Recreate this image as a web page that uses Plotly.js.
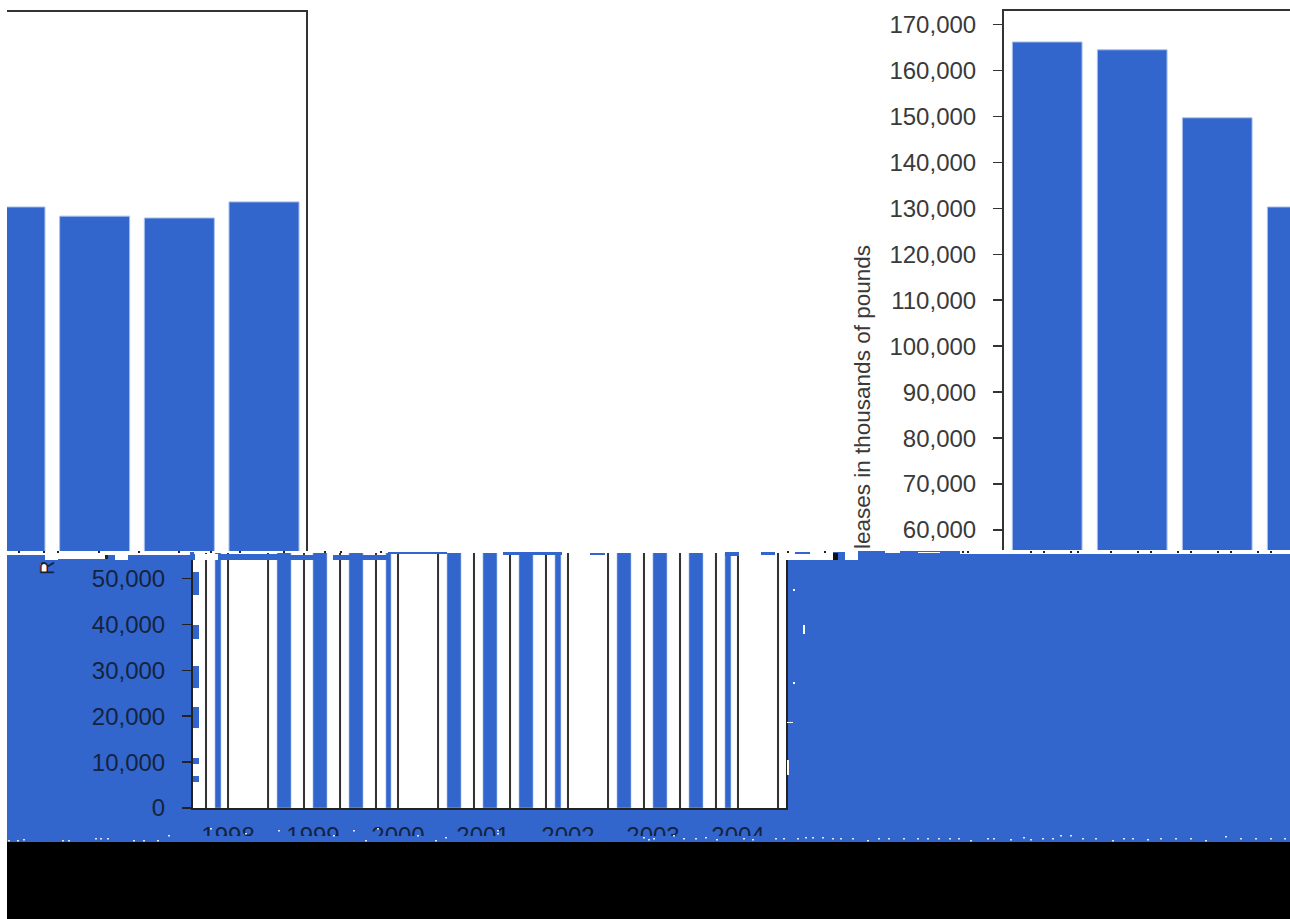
<!DOCTYPE html>
<html><head><meta charset="utf-8">
<script src="https://cdn.plot.ly/plotly-3.0.1.min.js"></script>
<style>html,body{margin:0;padding:0;background:#fff}#c{width:1290px;height:919px}</style></head>
<body><div id="c"></div>
<script>
// Chart values
const years = [1998,1999,2000,2001,2002,2003,2004];
const releases = [166200,164500,149700,130300,128300,127900,131400];
const upperTicks = [170000,160000,150000,140000,130000,120000,110000,100000,90000,80000,70000,60000];
const upperLabels = ["170,000","160,000","150,000","140,000","130,000","120,000","110,000","100,000","90,000","80,000","70,000","60,000"];
const lowerTicks = [50000,40000,30000,20000,10000,0];
const lowerLabels = ["50,000","40,000","30,000","20,000","10,000","0"];
// Torn strip of the lower panel, in years on its axis
const stripeYears = [1997.882,1998.659,1999.082,1999.506,1999.888,2000.659,2001.082,2001.506,2001.882,2002.659,2003.082,2003.506,2003.882];
const stripeWidths = [0.07,0.165,0.165,0.165,0.06,0.165,0.165,0.165,0.07,0.165,0.165,0.165,0.07];
const ruleYears = [1997.741,1998,1998.471,1998.894,1999.318,1999.741,2000,2000.471,2000.894,2001.318,2001.741,2002,2002.471,2002.894,2003.318,2003.741,2004,2004.471];
const stripeTop = stripeYears.map(()=>60000);
const ruleTop = ruleYears.map(()=>60000);

const W=1290,H=919, BLUE='#3366CC', INK='#333333', WHITE='#ffffff', DARK='#222222';
const dx=(a,b)=>[a/W,b/W], dy=(top,bot)=>[1-bot/H,1-top/H];
// Background tears: [x0,y0,x1,y1,colour,layer]
const tears = [
 [7,555,193,836,BLUE,'below'],[193,808,790,836,BLUE,'below'],[786,560,860,836,BLUE,'below'],[833,552,845,560,BLUE,'below'],[858,551,960,836,BLUE,'below'],[960,554,1290,836,BLUE,'below'],
 [7,836,1290,842,BLUE,'above'],
 [7,842,1290,919,'#000000','above'],
 [194,554,278,560,BLUE,'above'],[287,555,323,560,BLUE,'above'],[333,555,388,560,BLUE,'above'],
 [190,552,194,560,BLUE,'above'],[784,551,789,560,WHITE,'above'],
 [193,572,199,595,BLUE,'above'],[193,625,199,639,BLUE,'above'],[193,666,199,688,BLUE,'above'],[193,707,199,728,BLUE,'above'],[193,758,199,764,BLUE,'above'],[193,776,199,782,BLUE,'above'],
 [388,552,447,554,BLUE,'above'],[503,552,562,555,BLUE,'above'],[590,553,605,555,BLUE,'above'],[725,552,739,556,BLUE,'above'],[761,552,775,555,BLUE,'above'],[795,552,810,554,BLUE,'above'],
 [45,553,58,560,WHITE,'above'],[58,553,106,559,WHITE,'above'],[115,553,128,560,WHITE,'above'],[833,553,838,560,'#111111','above'],[845,553,858,560,WHITE,'above'],
 [195,554,218,560,WHITE,'above'],
 [885,551,900,553,WHITE,'above'],[918,552,940,553,WHITE,'above'],
 [40,564,47,572,WHITE,'below'],
 [793,589,795,591,WHITE,'above'],[803,625,805,634,WHITE,'above'],[793,682,795,684,WHITE,'above'],[787,722,793,723,WHITE,'above'],[787,760,789,775,WHITE,'above']
];
// Small black dots left along the tear, x in page pixels
const tearDotsLeft=[18,43,57,98,138,178,210,239,283,324,340,380];
const tearDotsRight=[787,824,962,967,1030,1043,1070,1077,1110,1137,1150,1177,1190,1217,1230,1257,1270];
// White speckle along the foot of the blue band
const speckA=[[8,840],[17,840],[23,839],[62,840],[68,840],[95,838],[100,838],[107,838],[133,840],[143,840],[157,840],[168,835],[210,828],[245,833],[278,830],[333,835],[353,830],[365,840],[377,828],[417,835],[435,840],[445,837],[497,830],[497,833]];
const speckB=[[643,837],[648,839],[653,838],[673,835],[683,838],[695,838],[705,837],[716,839],[743,838],[752,839],[775,838],[783,838],[797,838],[805,837],[812,837],[822,837],[832,838],[840,838],[852,838],[867,840],[878,838],[888,838],[903,838],[917,838],[927,838],[938,838],[949,838],[958,838],[970,840],[987,838],[993,838],[1010,839],[1023,837],[1030,839],[1042,838],[1052,838],[1060,835],[1070,835],[1082,838],[1095,838],[1112,840],[1123,838],[1132,838],[1147,839],[1160,838],[1175,838],[1190,838],[1205,840],[1225,836],[1240,838],[1255,838],[1270,838],[1284,838]];
const rect=(x0,y0,x1,y1,c,l)=>({type:'rect',xref:'paper',yref:'paper',x0:x0/W,x1:x1/W,y0:1-y1/H,y1:1-y0/H,fillcolor:c,layer:l,line:{width:0}});
const shapes = tears.map(t=>rect(t[0],t[1],t[2],t[3],t[4],t[5]))
 .concat(tearDotsLeft.concat(tearDotsRight).map(x=>rect(x,551,x+2,553,DARK,'above')))
 .concat([[105,555,108,559]].map(t=>rect(t[0],t[1],t[2],t[3],DARK,'above')))
 .concat(speckA.concat(speckB).map(p=>rect(p[0],p[1],p[0]+2,p[1]+1.6,'#dfe8f8','above')));

const barStyle={color:BLUE,line:{color:'#a9c2ef',width:1}};
const traces=[
 {type:'bar',x:years.slice(0,4),y:releases.slice(0,4),xaxis:'x',yaxis:'y',width:0.82,marker:barStyle,hoverinfo:'x+y'},
 {type:'bar',x:years.slice(3),y:releases.slice(3),xaxis:'x2',yaxis:'y2',width:0.827,marker:barStyle,hoverinfo:'x+y'},
 {type:'bar',x:stripeYears,y:stripeTop,width:stripeWidths,xaxis:'x3',yaxis:'y3',marker:{color:BLUE,line:{color:'#a9c2ef',width:0.6}},hoverinfo:'skip'},
 {type:'bar',x:ruleYears,y:ruleTop,width:ruleYears.map(()=>0.024),xaxis:'x3',yaxis:'y3',marker:{color:INK},hoverinfo:'skip'}
];
const tickFont={family:'"Liberation Sans",Arial,sans-serif',size:24,color:'#3a3a3a'};
const lowFont={family:'"Liberation Sans",Arial,sans-serif',size:24,color:'#15233f'};
const layout={
 width:W,height:H,margin:{l:0,r:0,t:0,b:0,pad:0},showlegend:false,barmode:'overlay',
 paper_bgcolor:'#ffffff',plot_bgcolor:'rgba(0,0,0,0)',
 xaxis:{domain:dx(1004,1290),range:[1997.492,2000.856],side:'top',showline:true,linecolor:INK,linewidth:2,ticks:'',showticklabels:false,showgrid:false,zeroline:false,anchor:'y'},
 yaxis:{domain:dy(11,550),range:[55650,172938],tickvals:upperTicks,ticktext:upperLabels,tickfont:tickFont,ticks:'outside',ticklen:9,tickwidth:1.5,tickcolor:INK,showline:true,linecolor:INK,linewidth:2,showgrid:false,zeroline:false,ticklabelstandoff:12,anchor:'x'},
 xaxis2:{domain:dx(7,305.5),range:[2000.965,2004.49],side:'top',showline:true,linecolor:INK,linewidth:2,ticks:'',showticklabels:false,showgrid:false,zeroline:false,anchor:'y2'},
 yaxis2:{domain:dy(12,551),range:[55430,172720],side:'right',showticklabels:false,ticks:'',showline:true,linecolor:INK,linewidth:2,showgrid:false,zeroline:false,anchor:'x2'},
 xaxis3:{domain:dx(193,786),range:[1997.588,2004.565],tickvals:years,ticktext:years.map(String),tickfont:lowFont,ticks:'',showline:true,linecolor:DARK,linewidth:2,showgrid:false,zeroline:false,ticklabelstandoff:5,anchor:'y3'},
 yaxis3:{domain:dy(553,808),range:[0,55556],tickvals:lowerTicks,ticktext:lowerLabels,tickfont:lowFont,ticks:'outside',ticklen:9,tickwidth:1.5,tickcolor:DARK,showline:true,mirror:true,linecolor:DARK,linewidth:2,showgrid:false,zeroline:false,ticklabelstandoff:12,anchor:'x3'},
 shapes,
 annotations:[
  {xref:'paper',yref:'paper',x:862/W,y:1-551/H,yanchor:'bottom',xanchor:'center',text:'leases in thousands of pounds',textangle:-90,showarrow:false,font:{family:'"Liberation Sans",Arial,sans-serif',size:22.5,color:'#3a3a3a'}},
  {xref:'paper',yref:'paper',x:47/W,y:1-568/H,xanchor:'center',yanchor:'middle',text:'R',textangle:-90,showarrow:false,font:{family:'"Liberation Sans",Arial,sans-serif',size:20,color:'#15233f'}}
 ]
};
Plotly.newPlot('c',traces,layout,{displayModeBar:false,staticPlot:true});
</script></body></html>
